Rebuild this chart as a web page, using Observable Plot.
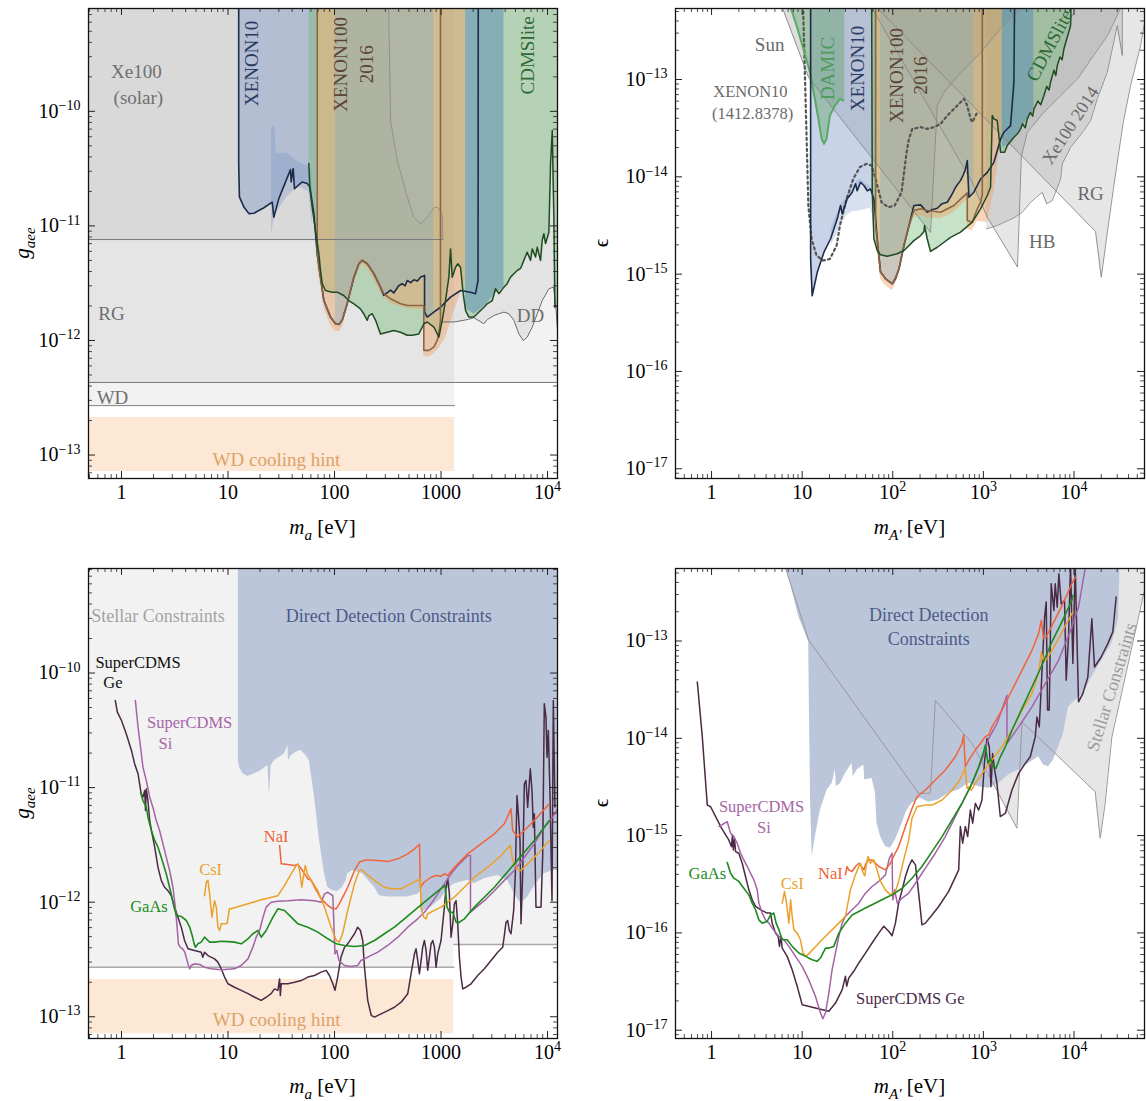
<!DOCTYPE html>
<html><head><meta charset="utf-8">
<script src="https://cdn.jsdelivr.net/npm/d3@7"></script>
<script src="https://cdn.jsdelivr.net/npm/@observablehq/plot@0.6"></script>
<style>
body{margin:0;background:#fff;}
#wrap{position:relative;width:1146px;height:1101px;overflow:hidden;background:#fff;}
</style></head><body><div id="wrap"></div>
<script>
// ===================== DATA =====================
// ---- top-left: axion, g_aee vs m_a ----
const tlXe100Solar = 7.6e-12, tlXe100SolarEnd = 1040;
const tlXe100SolarHigh = [[308,null],[336,8.3e-11],[388,3.73e-11],[482,1.79e-11],[556,1.19e-11],[642,1.04e-11],[742,1.19e-11],[855,1.44e-11],[921,1.46e-11],[1026,1.28e-11],[1040,7.6e-12]];
const tlRG = 4.3e-13;
const tlWD = 2.7e-13, tlWDEnd = 1340;
const tlWDHint = [7.2e-14, 2.13e-13];
const tlDD = [[989,1.45e-12],[1319,1.45e-12],[1762,1.52e-12],[2033,1.58e-12],[2524,1.4e-12],[2712,1.52e-12],[3132,1.65e-12],[3492,1.71e-12],[3890,1.77e-12],[4334,1.71e-12],[4830,1.5e-12],[5383,1.14e-12],[5913,1.0e-12],[6442,1.07e-12],[7181,1.31e-12],[8000,1.71e-12],[8913,2.23e-12],[10290,2.83e-12],[11380,2.92e-12],[11970,1.95e-12],[12420,1.22e-12]];
const tlXenon10 = [[12.6,null],[12.6,3.5e-11],[12.8,1.79e-11],[14.1,1.46e-11],[15.7,1.28e-11],[17.5,1.29e-11],[21.7,1.44e-11],[26.0,1.61e-11],[26.9,1.19e-11],[30.0,1.73e-11],[38.6,3.1e-11],[39.2,2.42e-11],[40.9,3.16e-11],[42.1,2.11e-11],[49.7,2.42e-11],[55.5,2.34e-11],[58.7,2.18e-11],[64.0,1.28e-11],[68.8,5.7e-12]];
const tlXenon10Band = [[25.6,7.3e-11,8.5e-12],[27.5,7.3e-11,1.2e-11],[28.5,4.3e-11,1.3e-11],[36,4.3e-11,1.8e-11],[46,3.6e-11,2.2e-11],[57,3.3e-11,2.0e-11],[62,3.0e-11,1.0e-11]];
const tlXenon100 = [[73.9,3.57e-12],[79.4,2.23e-12],[91.7,1.6e-12],[102,1.4e-12],[110,1.38e-12],[118,1.5e-12],[131.5,2.09e-12],[152,3.57e-12],[169,4.67e-12],[182,5.0e-12],[203,4.67e-12],[234,3.83e-12],[270,2.92e-12],[290,2.47e-12],[336,2.75e-12],[360,2.6e-12],[400,3.0e-12],[432,3.13e-12],[460,3.0e-12],[482,3.34e-12],[520,3.2e-12],[556,3.39e-12],[600,3.3e-12],[642,3.57e-12],[700,3.7e-12],[700,1.77e-12],[742,1.6e-12],[855,1.77e-12],[988,1.95e-12],[1227,2.39e-12],[1525,2.73e-12],[1892,2.64e-12],[2109,2.56e-12],[2225,3.34e-12],[2240,null]];
const tlX100BandRange = [102, 855];
const tlXenon100Band2 = [[1700,1.9e-12],[2033,1.7e-12],[2240,1.8e-12],[2700,2.1e-12],[3250,2.6e-12],[3900,2.9e-12],[3900,null]];
const tlX2016 = [[68.8,null],[68.8,5.7e-12],[73.9,3.57e-12],[79.4,2.23e-12],[91.7,1.6e-12],[102,1.4e-12],[110,1.38e-12],[118,1.5e-12],[131.5,2.09e-12],[152,3.57e-12],[169,4.67e-12],[182,5.0e-12],[203,4.67e-12],[234,3.83e-12],[270,2.92e-12],[290,2.56e-12],[336,2.31e-12],[417,2.09e-12],[482,2.02e-12],[689,2.02e-12],[689,8.2e-13],[768,8.2e-13],[855,8.75e-13],[920,1.0e-12],[953,1.15e-12],[988,1.5e-12],[988,null]];
const tlX2016Band = [[68.8,4.5e-12],[75,2.8e-12],[80,1.9e-12],[92,1.35e-12],[102,1.2e-12],[112,1.2e-12],[120,1.35e-12],[132,1.9e-12],[152,3.2e-12],[175,4.3e-12],[185,4.6e-12],[205,4.2e-12],[235,3.4e-12],[270,2.6e-12],[336,2.1e-12],[482,1.9e-12],[689,1.85e-12],[689,7.2e-13],[768,7.2e-13],[855,7.6e-13],[955,8.5e-13],[1100,1.05e-12],[1319,1.77e-12],[1524,2.56e-12],[1698,3.3e-12],[1698,null]];
const tlCDMS = [[57.4,null],[57.4,3.5e-11],[58.6,2.18e-11],[61.7,1.46e-11],[66.3,9.1e-12],[71.3,5.7e-12],[73.9,4.08e-12],[76.6,3.13e-12],[82.3,2.73e-12],[95.1,2.64e-12],[106,2.64e-12],[122,2.47e-12],[136,2.23e-12],[152,2.09e-12],[175,1.89e-12],[188,1.71e-12],[203,1.5e-12],[210,1.65e-12],[226,1.71e-12],[243,1.5e-12],[270,1.14e-12],[312,1.18e-12],[361,1.22e-12],[417,1.18e-12],[481,1.11e-12],[536,1.11e-12],[619,1.14e-12],[690,1.4e-12],[742,1.45e-12],[857,1.31e-12],[955,1.07e-12],[1026,1.5e-12],[1102,2.23e-12],[1184,3.57e-12],[1228,6.3e-12],[1274,3.57e-12],[1368,4.36e-12],[1438,4.67e-12],[1524,4.36e-12],[1615,2.56e-12],[1698,1.83e-12],[1824,1.6e-12],[2033,1.6e-12],[2187,1.71e-12],[2524,1.95e-12],[2712,2.09e-12],[3026,2.23e-12],[3250,2.83e-12],[3492,2.56e-12],[3890,2.92e-12],[4180,3.13e-12],[4494,3.57e-12],[4830,3.82e-12],[5190,4.08e-12],[5576,4.25e-12],[5993,5.0e-12],[6442,5.9e-12],[6922,5.0e-12],[7181,6.3e-12],[7712,5.35e-12],[8000,6.5e-12],[8593,5.0e-12],[8913,7.5e-12],[9230,8.55e-12],[9577,7.0e-12],[10290,8.8e-12],[10670,3.5e-11],[11070,6.8e-11],[11470,1.12e-11],[11720,1.95e-12],[12150,2.0e-12],[12500,2.0e-12]];

// ---- top-right: dark photon, epsilon vs m_A' ----
const trSun = [[6.08,5.4e-13],[11.8,1.05e-13],[261,2.68e-15],[310,5.4e-14],[366,7.35e-14],[560,1.18e-13],[931,1.89e-13],[1549,3.34e-13],[2575,5.4e-13]];
const trHB = [[59,5.4e-13],[749,8.85e-15],[1104,3.85e-15],[2380,1.18e-15],[2620,1.6e-14],[3053,2.87e-14],[4617,4.58e-14],[7112,6.85e-14],[10960,1.02e-13],[16450,1.77e-13],[23480,2.83e-13],[32700,5.4e-13]];
const trRG = [[68,5.4e-13],[17300,2.74e-15],[20000,9.3e-16],[23480,2.8e-15],[27350,7.76e-15],[31050,1.74e-14],[35260,3.79e-14],[42150,8.7e-14],[54330,2.23e-13],[62000,4.55e-13]];
const trXe2014 = [[1084,2.92e-15],[1423,3.16e-15],[2172,3.79e-15],[2688,4.33e-15],[3319,5.48e-15],[4467,6.95e-15],[4985,5.28e-15],[5764,5.7e-15],[7112,9.5e-15],[7430,1.36e-14],[9170,2.01e-14],[12850,2.99e-14],[15240,3.79e-14],[18070,6.34e-14],[23320,1.19e-13],[30060,3.59e-13],[34140,1.77e-13],[34140,null]];
const trDamic = [[7.32,5.77e-13],[8.67,3.59e-13],[10.3,2.07e-13],[12.2,1.19e-13],[13.8,6.34e-14],[15.1,3.94e-14],[16.4,2.46e-14],[17.4,2.18e-14],[18.6,2.46e-14],[20.2,4.26e-14],[23.0,5.4e-14],[26.1,6.34e-14],[28.4,6.08e-14],[29.6,6.0e-14]];
const trXenon10Old = [[10.1,null],[10.3,4.55e-13],[10.7,1.19e-13],[11.2,2.46e-14],[11.7,5.07e-15],[12.7,2.31e-15],[14.4,1.55e-15],[17.1,1.38e-15],[20.2,1.43e-15],[24.0,1.97e-15],[26.1,3.16e-15],[30.9,5.94e-15],[36.6,9.5e-15],[43.3,1.26e-14],[51.4,1.36e-14],[58.3,1.31e-14],[66.2,8.8e-15],[75.2,5.48e-15],[89.2,4.87e-15],[105,5.07e-15],[125,6.95e-15],[142,1.79e-14],[151,2.46e-14],[164,3.11e-14],[203,3.24e-14],[240,3.11e-14],[284,3.24e-14],[337,3.5e-14],[400,4.26e-14],[515,5.4e-14],[610,6.34e-14],[664,5.4e-14],[722,3.94e-14],[754,3.64e-14],[857,4.61e-14]];
const trXenon10 = [[12.4,null],[12.4,1.44e-15],[12.9,6.0e-16],[14.7,1.05e-15],[17.4,1.68e-15],[20.6,2.31e-15],[24.4,3.7e-15],[26.5,5.07e-15],[27.7,4.17e-15],[31.4,5.94e-15],[35.7,6.95e-15],[38.8,8.5e-15],[40.5,7.2e-15],[44.1,8.8e-15],[48.0,8.15e-15],[52.3,7.2e-15],[56.9,7.5e-15],[61.8,5.94e-15],[67.4,2.31e-15]];
const trXenon10Band = [[21,3.0e-15,2.0e-15],[24.4,4.2e-15,2.6e-15],[27,5.2e-15,3.2e-15],[31,6.2e-15,4.0e-15],[36,7.5e-15,4.4e-15],[40,9.0e-15,4.4e-15],[44,9.5e-15,4.5e-15],[50,8.5e-15,4.6e-15],[56,8.0e-15,4.8e-15],[60,7.0e-15,4.0e-15],[64,4.0e-15,2.5e-15]];
const trXenon100 = [[73.3,1.05e-15],[83.3,8.95e-16],[98.7,7.95e-16],[107,8.95e-16],[117,1.13e-15],[133,1.97e-15],[151,3.16e-15],[171,5.07e-15],[203,5.15e-15],[240,4.33e-15],[270,4.6e-15],[310,4.76e-15],[350,5.3e-15],[400,5.48e-15],[450,6.6e-15],[493,7.8e-15],[560,9.2e-15],[600,1.05e-14],[637,1.21e-14],[664,1.47e-14],[692,6.17e-15],[785,6.95e-15],[931,9.5e-15],[1104,1.11e-14],[1307,1.41e-14],[1549,2.45e-14],[1684,2.87e-14],[1995,3.36e-14],[2172,9.4e-14],[2266,null]];
const trX100BandRange = [73, 785];
const trXenon100Band2 = [[1616,2.0e-14],[1836,2.1e-14],[2172,2.55e-14],[2575,3.11e-14],[3050,3.94e-14],[3600,5.0e-14],[3600,null]];
const trX2016 = [[64.6,null],[64.6,3.16e-15],[73.3,1.05e-15],[83.3,8.95e-16],[98.7,8.0e-16],[107,9.2e-16],[117,1.13e-15],[133,2.0e-15],[151,3.16e-15],[171,4.5e-15],[203,4.7e-15],[240,4.5e-15],[337,4.33e-15],[473,5.07e-15],[664,6.84e-15],[664,3.56e-15],[754,3.42e-15],[857,4.69e-15],[931,5.48e-15],[973,6.5e-15],[973,null]];
const trX2016Band = [[64.6,2.5e-15],[73,9.0e-16],[83,7.6e-16],[99,6.8e-16],[107,7.8e-16],[117,9.6e-16],[133,1.7e-15],[151,2.7e-15],[171,3.8e-15],[203,4.0e-15],[240,3.8e-15],[337,3.7e-15],[473,4.3e-15],[664,5.8e-15],[664,2.9e-15],[754,2.8e-15],[857,3.5e-15],[1104,3.4e-15],[1307,7.0e-15],[1549,2.1e-14],[1616,3.0e-14],[1616,null]];
const trCDMS = [[57.9,null],[59.4,6.95e-15],[61.9,2.31e-15],[67.4,1.75e-15],[73.3,1.58e-15],[86.9,1.53e-15],[112,1.62e-15],[133,1.75e-15],[171,2.21e-15],[203,2.49e-15],[221,2.74e-15],[224,3.16e-15],[240,2.31e-15],[261,1.71e-15],[310,1.89e-15],[434,2.39e-15],[560,2.7e-15],[754,3.42e-15],[931,4.69e-15],[1104,6.43e-15],[1200,7.8e-15],[1253,4.26e-14],[1307,3.94e-14],[1422,3.79e-14],[1549,1.79e-14],[1714,1.79e-14],[1836,2.1e-14],[2172,2.55e-14],[2400,2.8e-14],[2575,3.11e-14],[2700,3.5e-14],[2900,3.2e-14],[3050,3.94e-14],[3300,4.6e-14],[3500,4.2e-14],[3612,5.0e-14],[4000,6.0e-14],[4300,5.5e-14],[4655,6.85e-14],[5000,8.5e-14],[5300,7.8e-14],[5516,9.4e-14],[6000,1.25e-13],[6300,1.1e-13],[6535,1.39e-13],[7000,1.7e-13],[7400,1.6e-13],[7740,2.07e-13],[8500,2.8e-13],[9170,3.59e-13],[9980,null]];

// ---- bottom-left: projected reach, g_aee ----
const blWD = 2.71e-13, blWDEnd = 1320, blRG = 4.28e-13;
const blWDHint = [7.1e-14, 2.11e-13], blWDHintEnd = 1316;
const blDD = [[12.5,1.72e-11],[12.8,1.51e-11],[13.8,1.32e-11],[15.4,1.25e-11],[17.8,1.32e-11],[20.5,1.41e-11],[23.7,1.56e-11],[24.5,8.53e-12],[25.4,1.56e-11],[27.3,1.72e-11],[30.5,1.84e-11],[33.9,1.97e-11],[36.5,2.33e-11],[37.0,1.72e-11],[39.2,1.9e-11],[43.7,2.04e-11],[48.6,2.11e-11],[54.2,1.9e-11],[58.0,1.72e-11],[64.9,8.25e-12],[72.3,3.46e-12],[80.5,1.77e-12],[86.5,1.35e-12],[96.4,1.26e-12],[107,1.24e-12],[119,1.35e-12],[129,1.55e-12],[133,1.77e-12],[148,1.89e-12],[184,1.77e-12],[237,1.35e-12],[264,1.14e-12],[316,1.11e-12],[487,1.11e-12],[604,1.17e-12],[640,1.22e-12],[650,7.92e-13],[698,8.47e-13],[806,9.05e-13],[1000,1.07e-12],[1156,1.31e-12],[1335,1.45e-12],[1780,1.55e-12],[2056,1.45e-12],[2552,1.6e-12],[3403,1.71e-12],[4224,1.55e-12],[4879,1.18e-12],[5634,9.68e-13],[6505,1.11e-12],[7789,1.45e-12],[9324,1.77e-12],[11160,1.89e-12],[12500,1.89e-12]];
const blGe = [[0.875,5.75e-11],[0.914,4.55e-11],[1.0,3.85e-11],[1.11,2.94e-11],[1.24,2.11e-11],[1.33,1.61e-11],[1.43,1.32e-11],[1.48,1.08e-11],[1.53,8.83e-12],[1.59,8.25e-12],[1.65,9.44e-12],[1.68,6.31e-12],[1.71,9.76e-12],[1.77,7.71e-12],[1.84,5.16e-12],[1.91,4.22e-12],[2.05,3.02e-12],[2.20,2.02e-12],[2.36,1.55e-12],[2.54,1.35e-12],[2.73,1.26e-12],[2.93,1.14e-12],[3.15,9.05e-13],[3.39,7.4e-13],[3.64,6.05e-13],[3.91,4.63e-13],[4.21,3.92e-13],[4.86,3.79e-13],[5.61,3.66e-13],[5.8,3.31e-13],[6.03,3.66e-13],[6.48,3.42e-13],[7.48,3.2e-13],[8.04,3.0e-13],[8.64,2.62e-13],[9.28,2.22e-13],[9.98,1.94e-13],[11.5,1.81e-13],[13.3,1.7e-13],[15.4,1.59e-13],[17.8,1.48e-13],[20.5,1.39e-13],[22.8,1.48e-13],[25.4,1.59e-13],[27.3,1.75e-13],[29.4,1.7e-13],[30.5,2.14e-13],[31.0,1.53e-13],[31.6,1.94e-13],[36.5,1.94e-13],[42.1,2.0e-13],[48.6,2.07e-13],[56.2,2.22e-13],[64.9,2.29e-13],[74.9,2.45e-13],[83.5,2.54e-13],[89.7,2.29e-13],[96.4,1.94e-13],[101,1.7e-13],[107,2.22e-13],[115,3.31e-13],[124,4.05e-13],[133,4.33e-13],[143,4.79e-13],[154,5.3e-13],[165,6.05e-13],[175,5.66e-13],[184,4.63e-13],[191,2.71e-13],[205,1.39e-13],[221,1.03e-13],[237,9.93e-14],[274,1.06e-13],[316,1.13e-13],[365,1.21e-13],[422,1.34e-13],[487,1.59e-13],[523,2.37e-13],[563,3.54e-13],[583,3.92e-13],[604,3.1e-13],[627,2.37e-13],[650,3.1e-13],[673,4.05e-13],[698,4.63e-13],[724,3.79e-13],[750,2.54e-13],[778,3.31e-13],[806,4.33e-13],[836,4.63e-13],[867,4.05e-13],[898,2.71e-13],[931,3.54e-13],[1000,4.63e-13],[1075,9.05e-13],[1115,1.35e-12],[1156,1.6e-12],[1198,1.18e-12],[1242,4.95e-13],[1288,6.47e-13],[1335,9.68e-13],[1384,1.03e-12],[1435,6.47e-13],[1487,3.31e-13],[1542,2.22e-13],[1598,1.75e-13],[1717,1.81e-13],[1913,1.94e-13],[2209,2.29e-13],[2552,2.62e-13],[2947,3.1e-13],[3403,3.66e-13],[3792,4.05e-13],[3930,5.12e-13],[4074,6.69e-13],[4224,6.92e-13],[4378,5.66e-13],[4538,5.3e-13],[4808,8.47e-13],[4984,1.77e-12],[5167,8.53e-12],[5318,5.9e-12],[5514,3.46e-12],[5634,6.47e-13],[5841,1.77e-12],[6053,1.08e-11],[6275,1.15e-11],[6505,6.75e-12],[6890,1.46e-11],[7143,9.44e-12],[7352,4.51e-12],[7513,5.9e-12],[7789,9.05e-13],[8678,9.05e-13],[8995,2.47e-12],[9324,5.38e-11],[9667,4.1e-11],[9880,1.84e-11],[10170,3.15e-11],[10540,8.83e-12],[11010,1.03e-12],[11330,5.75e-11],[11740,6.75e-12]];
const blSi = [[1.35,5.75e-11],[1.43,3.37e-11],[1.51,2.25e-11],[1.59,1.51e-11],[1.71,1.15e-11],[1.84,8.25e-12],[1.97,6.75e-12],[2.12,5.16e-12],[2.28,4.22e-12],[2.45,3.23e-12],[2.63,2.47e-12],[2.83,1.89e-12],[3.04,1.35e-12],[3.20,9.05e-13],[3.33,6.05e-13],[3.42,4.33e-13],[3.56,4.05e-13],[3.74,3.92e-13],[3.93,3.66e-13],[4.21,2.9e-13],[4.37,2.62e-13],[4.52,2.8e-13],[4.86,2.9e-13],[5.41,2.86e-13],[6.03,2.71e-13],[6.96,2.62e-13],[8.64,2.57e-13],[11.5,2.62e-13],[13.3,2.8e-13],[15.4,3.2e-13],[17.1,4.05e-13],[18.4,4.95e-13],[19.8,5.66e-13],[21.3,7.4e-13],[22.8,9.05e-13],[25.4,1.0e-12],[29.4,1.02e-12],[36.5,1.03e-12],[48.6,1.05e-12],[64.9,1.03e-12],[74.9,1.0e-12],[80.5,1.18e-12],[86.5,1.22e-12],[96.4,1.14e-12],[101,3.54e-13],[105,3.79e-13],[110,3.1e-13],[124,2.8e-13],[143,2.75e-13],[165,2.8e-13],[177,3.1e-13],[205,3.31e-13],[255,3.66e-13],[316,4.19e-13],[393,4.95e-13],[487,6.05e-13],[604,7.16e-13],[698,8.18e-13],[806,9.68e-13],[931,1.18e-12],[1075,1.45e-12],[1242,1.77e-12],[1435,2.09e-12],[1780,2.55e-12],[1890,2.55e-12],[1890,8.18e-13],[2056,8.75e-13],[2552,1.03e-12],[3167,1.26e-12],[3930,1.55e-12],[4879,1.89e-12],[6053,2.47e-12],[7513,3.23e-12],[9324,4.51e-12],[11160,5.52e-12],[12400,6.53e-12]];
const blGaAs = [[1.51,9.12e-12],[1.59,7.71e-12],[1.71,6.75e-12],[1.77,5.52e-12],[1.91,4.22e-12],[2.05,3.46e-12],[2.20,3.02e-12],[2.36,2.47e-12],[2.63,1.77e-12],[2.93,1.18e-12],[3.11,9.05e-13],[3.28,7.66e-13],[3.64,7.5e-13],[4.06,6.92e-13],[4.37,6.05e-13],[4.61,5.12e-13],[4.81,4.33e-13],[4.95,4.05e-13],[5.22,4.33e-13],[5.61,4.48e-13],[6.03,4.95e-13],[6.25,4.79e-13],[6.72,4.48e-13],[7.48,4.48e-13],[8.64,4.56e-13],[9.98,4.53e-13],[11.5,4.48e-13],[13.3,4.33e-13],[15.4,4.79e-13],[17.1,5.3e-13],[19.1,5.66e-13],[20.5,4.95e-13],[22.8,5.66e-13],[26.4,7.4e-13],[29.4,8.75e-13],[33.9,8.47e-13],[39.2,7.4e-13],[45.3,6.47e-13],[56.2,6.05e-13],[69.7,5.48e-13],[86.5,4.79e-13],[104,4.33e-13],[124,4.19e-13],[154,4.1e-13],[191,4.19e-13],[237,4.63e-13],[294,5.3e-13],[365,6.05e-13],[453,7.16e-13],[563,8.47e-13],[698,1.0e-12],[867,1.18e-12],[1037,1.35e-12],[1091,1.4e-12],[1139,9.05e-13],[1198,8.18e-13],[1288,8.18e-13],[1384,6.69e-13],[1435,6.55e-13],[1657,7.16e-13],[2056,9.05e-13],[3167,1.35e-12],[4879,2.16e-12],[7513,3.46e-12],[10390,5.16e-12]];
const blCsI = [[6.03,1.14e-12],[6.25,1.5e-12],[6.48,1.55e-12],[6.72,1.18e-12],[7.06,7.4e-13],[7.48,1.03e-12],[7.76,9.05e-13],[8.04,6.05e-13],[8.33,5.66e-13],[8.64,6.47e-13],[9.42,6.47e-13],[9.84,6.55e-13],[10.3,8.75e-13],[10.7,8.75e-13],[15.4,9.68e-13],[20.5,1.05e-12],[29.4,1.14e-12],[34.0,1.4e-12],[39.2,1.77e-12],[43.7,2.09e-12],[45.3,2.16e-12],[47.0,1.89e-12],[49.3,1.35e-12],[51.5,1.77e-12],[53.1,2.09e-12],[55.5,1.77e-12],[58.0,1.65e-12],[69.7,1.26e-12],[80.5,9.05e-13],[93.0,6.05e-13],[104,4.63e-13],[111,4.48e-13],[119,5.3e-13],[133,8.47e-13],[154,1.45e-12],[171,1.89e-12],[180,1.92e-12],[198,1.77e-12],[237,1.55e-12],[294,1.35e-12],[340,1.31e-12],[422,1.31e-12],[523,1.45e-12],[640,1.6e-12],[650,9.05e-13],[688,7.4e-13],[724,7.16e-13],[750,7.92e-13],[867,8.47e-13],[1000,9.05e-13],[1156,1.0e-12],[1335,1.11e-12],[1657,1.35e-12],[2056,1.65e-12],[2742,2.02e-12],[3657,2.55e-12],[4474,3.13e-12],[4706,2.31e-12],[5242,1.92e-12],[5634,1.89e-12],[6505,2.16e-12],[8075,2.64e-12],[10390,3.46e-12]];
const blNaI = [[30.5,3.13e-12],[31.6,2.16e-12],[36.5,2.13e-12],[42.1,2.09e-12],[45.3,2.13e-12],[48.6,1.96e-12],[52.3,1.77e-12],[56.2,1.6e-12],[60.4,1.55e-12],[64.9,1.35e-12],[74.9,1.07e-12],[86.5,9.36e-13],[96.4,8.75e-13],[104,8.75e-13],[115,1.03e-12],[133,1.35e-12],[154,1.89e-12],[171,2.24e-12],[198,2.34e-12],[255,2.31e-12],[316,2.26e-12],[393,2.39e-12],[487,2.64e-12],[563,2.92e-12],[627,3.2e-12],[640,1.35e-12],[698,1.5e-12],[806,1.65e-12],[898,1.71e-12],[1000,1.68e-12],[1075,1.77e-12],[1156,1.71e-12],[1335,2.02e-12],[1780,2.64e-12],[2374,3.23e-12],[3167,3.95e-12],[3930,4.83e-12],[4538,6.53e-12],[4706,4.22e-12],[5242,3.7e-12],[6053,4.22e-12],[7513,5.16e-12],[10390,7.22e-12]];

// ---- bottom-right: projected reach, epsilon ----
const brStellar = [[6.55,5.6e-13],[11.8,1.02e-13],[82.9,8.18e-15],[193,2.72e-15],[260,2.72e-15],[295,2.46e-14],[749,8.85e-15],[2346,1.19e-15],[2665,1.48e-14],[17150,2.82e-15],[19460,9.38e-16],[22100,2.15e-15],[26170,1.03e-14],[61000,3.58e-13]];
const brDD = [[6.83,5.6e-13],[7.76,3.31e-13],[9.19,1.76e-13],[10.9,1.19e-13],[11.8,9.77e-14],[12.0,2.27e-14],[12.4,2.15e-15],[12.9,6.1e-16],[14.0,9.77e-16],[15.9,1.83e-15],[18.9,2.94e-15],[21.4,3.44e-15],[23.3,4.72e-15],[23.8,3.18e-15],[26.5,3.44e-15],[30.0,4.35e-15],[35.6,5.52e-15],[36.6,4.03e-15],[40.4,4.72e-15],[47.9,5.31e-15],[49.1,3.72e-15],[59.1,3.87e-15],[64.4,2.72e-15],[66.9,1.34e-15],[73.1,9.77e-16],[82.9,7.71e-16],[94.2,7.41e-16],[107,9.03e-16],[127,1.34e-15],[144,1.83e-15],[163,2.15e-15],[202,2.42e-15],[249,2.2e-15],[321,2.32e-15],[414,2.72e-15],[534,2.94e-15],[688,3.44e-15],[887,3.18e-15],[1143,3.06e-15],[1474,3.44e-15],[1899,4.19e-15],[2448,4.72e-15],[3156,5.52e-15],[4067,6.46e-15],[4617,5.31e-15],[5243,5.1e-15],[5953,5.97e-15],[6760,8.18e-15],[7674,1.12e-14],[8712,2.1e-14],[10320,2.46e-14],[12750,2.88e-14],[15750,4.27e-14],[20300,6.34e-14],[26170,9.4e-14],[31000,1.63e-13],[32200,5.6e-13]];
const brGe = [[0.696,3.8e-14],[0.79,1.04e-14],[0.897,2.06e-15],[0.976,1.98e-15],[1.11,1.57e-15],[1.26,1.24e-15],[1.43,1.02e-15],[1.55,9.02e-16],[1.66,7.7e-16],[1.70,1.02e-15],[1.74,7.12e-16],[1.79,9.4e-16],[1.84,6.85e-16],[2.0,6.59e-16],[2.18,5.2e-16],[2.37,3.8e-16],[2.58,2.77e-16],[2.81,2.19e-16],[3.06,1.87e-16],[3.47,1.73e-16],[4.11,1.6e-16],[4.47,1.6e-16],[4.67,1.26e-16],[5.08,9.95e-17],[5.43,9.2e-17],[5.62,7.27e-17],[5.82,9.2e-17],[6.02,6.98e-17],[6.83,5.74e-17],[7.76,4.19e-17],[8.81,2.83e-17],[10.0,1.83e-17],[14.0,1.69e-17],[19.7,1.57e-17],[23.3,1.9e-17],[27.7,2.61e-17],[30.0,3.58e-17],[31.0,2.83e-17],[32.7,3.44e-17],[37.1,4.03e-17],[42.2,4.91e-17],[49.9,6.21e-17],[59.1,7.87e-17],[70.0,9.95e-17],[79.5,1.17e-16],[90.3,1.04e-16],[98.2,9.35e-17],[107,1.26e-16],[116,2.02e-16],[127,2.77e-16],[138,3.8e-16],[150,4.81e-16],[163,5.63e-16],[178,5.0e-16],[193,2.56e-16],[210,1.21e-16],[229,1.26e-16],[271,1.53e-16],[321,1.87e-16],[414,2.67e-16],[534,4.45e-16],[557,1.24e-15],[591,8.35e-16],[632,1.24e-15],[671,9.77e-16],[718,1.83e-15],[762,1.34e-15],[815,2.15e-15],[887,1.83e-15],[965,2.32e-15],[1033,5.97e-15],[1096,9.95e-15],[1163,8.18e-15],[1213,3.18e-15],[1265,6.98e-15],[1331,4.72e-15],[1412,3.44e-15],[1537,1.57e-15],[1745,1.69e-15],[2067,2.94e-15],[2448,4.36e-15],[2900,5.52e-15],[3292,6.46e-15],[3738,1.04e-14],[3900,1.66e-14],[4138,1.31e-14],[4352,3.37e-14],[4737,1.76e-13],[4936,2.51e-13],[5107,1.95e-14],[5328,1.95e-14],[5607,3.87e-13],[6000,2.06e-13],[6205,3.87e-13],[6529,2.23e-13],[6809,4.91e-13],[7226,2.41e-13],[7863,2.61e-13],[8203,3.95e-14],[8707,1.1e-13],[9158,6e-13],[9717,5.86e-14],[10310,6e-13],[11220,2.37e-14],[12530,2.88e-14],[14220,4.27e-14],[15740,1.69e-13],[16850,5.41e-14],[19950,6.85e-14],[23630,9.4e-14],[26830,1.24e-13],[29200,2.83e-13]];
const brSi = [[1.21,1.24e-15],[1.49,1.39e-15],[1.62,1.06e-15],[1.76,9.77e-16],[1.92,8.35e-16],[2.09,6.59e-16],[2.27,5.63e-16],[2.48,4.81e-16],[2.69,4.11e-16],[2.93,3.51e-16],[3.19,2.77e-16],[3.33,2.02e-16],[3.62,1.6e-16],[3.94,1.36e-16],[4.29,1.26e-16],[4.67,1.12e-16],[5.53,9.2e-17],[6.28,8.5e-17],[7.13,7.27e-17],[8.44,5.74e-17],[10.0,4.53e-17],[11.8,3.31e-17],[14.0,2.23e-17],[15.9,1.51e-17],[16.9,1.31e-17],[18.1,1.51e-17],[19.7,2.42e-17],[21.4,4.19e-17],[23.3,6.21e-17],[25.4,9.2e-17],[27.6,1.26e-16],[30.0,1.48e-16],[35.6,1.73e-16],[42.2,2.02e-16],[49.9,2.56e-16],[59.1,3.0e-16],[70.0,3.38e-16],[82.9,3.95e-16],[91.8,5.86e-16],[98.2,6.59e-16],[99.9,2.19e-16],[105,2.77e-16],[112,2.02e-16],[127,2.28e-16],[150,2.56e-16],[178,3.24e-16],[229,4.63e-16],[295,6.59e-16],[380,9.77e-16],[490,1.57e-15],[581,2.15e-15],[749,3.44e-15],[965,5.97e-15],[1143,9.95e-15],[1413,1.42e-14],[1821,2.77e-14],[1821,8.85e-15],[2448,1.31e-14],[3434,2.1e-14],[4817,3.65e-14],[6760,6.34e-14],[9482,1.39e-13],[11230,2.23e-13],[13300,5.6e-13]];
const brGaAs = [[1.49,5.28e-16],[1.62,4.11e-16],[1.76,3.65e-16],[2.0,3.38e-16],[2.27,2.88e-16],[2.58,2.46e-16],[2.81,2.02e-16],[3.06,1.73e-16],[3.33,1.36e-16],[3.62,1.26e-16],[4.11,1.31e-16],[4.47,1.53e-16],[4.86,1.6e-16],[5.16,1.26e-16],[5.53,1.08e-16],[6.02,8.5e-17],[6.83,8.5e-17],[7.76,7.27e-17],[9.19,6.21e-17],[10.9,5.74e-17],[12.9,5.31e-17],[14.6,5.1e-17],[15.9,5.52e-17],[18.1,6.98e-17],[19.7,6.98e-17],[22.3,7.27e-17],[25.4,9.95e-17],[30.0,1.26e-16],[35.6,1.53e-16],[42.2,1.66e-16],[49.9,1.8e-16],[59.1,1.95e-16],[82.9,2.28e-16],[98.2,2.46e-16],[127,2.88e-16],[163,3.65e-16],[210,4.81e-16],[271,6.85e-16],[350,9.77e-16],[451,1.45e-15],[581,2.15e-15],[749,3.44e-15],[887,5.1e-15],[1007,7.28e-15],[1050,8.5e-15],[1124,5.52e-15],[1192,6.21e-15],[1298,5.1e-15],[1377,4.91e-15],[1537,6.46e-15],[1745,8.18e-15],[2067,1.21e-14],[2665,2.02e-14],[3434,3.37e-14],[4428,5.63e-14],[5705,9.77e-14],[7356,1.57e-13],[9482,2.61e-13],[9717,2.94e-13]];
const brCsI = [[6.02,2.02e-16],[6.39,2.66e-16],[6.73,2.02e-16],[7.13,1.26e-16],[7.46,2.19e-16],[7.76,1.48e-16],[8.1,1.08e-16],[8.81,9.95e-17],[9.58,8.5e-17],[10.2,6.21e-17],[11.1,5.74e-17],[16.6,8.5e-17],[25.4,1.26e-16],[30.0,1.48e-16],[34.1,2.77e-16],[38.1,3.8e-16],[42.2,4.81e-16],[44.0,5.2e-16],[46.7,4.18e-16],[49.1,3.86e-16],[50.7,4.81e-16],[53.4,6.1e-16],[56.6,5.2e-16],[61.7,5.63e-16],[67.0,4.45e-16],[73.1,3.38e-16],[82.9,2.77e-16],[94.2,2.46e-16],[107,2.66e-16],[116,3.38e-16],[132,5.63e-16],[150,9.04e-16],[163,1.51e-15],[185,1.98e-15],[229,2.06e-15],[271,2.06e-15],[350,2.32e-15],[451,2.94e-15],[534,3.58e-15],[606,4.53e-15],[632,4.91e-15],[659,3.06e-15],[699,3.18e-15],[736,2.94e-15],[815,3.44e-15],[965,4.35e-15],[1244,5.97e-15],[1603,8.18e-15],[2067,1.21e-14],[2665,1.95e-14],[3434,2.88e-14],[4067,4.63e-14],[4352,7.71e-14],[4617,6.1e-14],[4899,6.34e-14],[5470,7.41e-14],[6760,1.06e-13],[7863,1.39e-13],[9717,1.98e-13]];
const brNaI = [[30.0,3.95e-16],[31.3,4.81e-16],[32.7,4.45e-16],[35.6,4.28e-16],[38.7,4.81e-16],[42.2,5.2e-16],[44.0,5.0e-16],[47.9,4.45e-16],[50.7,5.2e-16],[54.3,5.63e-16],[59.1,5.63e-16],[70.0,4.81e-16],[82.9,4.45e-16],[94.2,5.2e-16],[102,6.1e-16],[116,7.7e-16],[138,1.24e-15],[163,1.9e-15],[185,2.51e-15],[229,2.94e-15],[295,3.72e-15],[380,4.72e-15],[490,6.46e-15],[581,8.85e-15],[606,1.08e-14],[632,5.1e-15],[688,5.97e-15],[815,7.57e-15],[925,8.85e-15],[1050,1.04e-14],[1143,1.08e-14],[1244,1.31e-14],[1603,1.95e-14],[2067,3.12e-14],[2665,5.0e-14],[3434,8.02e-14],[4067,1.19e-13],[4352,1.63e-13],[4617,1.06e-13],[4936,1.1e-13],[5607,1.39e-13],[7226,2.23e-13],[9482,3.87e-13],[10320,4.53e-13]];

// ---- annotation labels (data coordinates) ----
const tlLabels = [
  {x:1.38,y:2.19e-10,t:"Xe100",c:"#707070",s:19},
  {x:1.44,y:1.32e-10,t:"(solar)",c:"#707070",s:19},
  {x:16.6,y:2.62e-10,t:"XENON10",c:"#2b3c63",s:19,r:-90},
  {x:114,y:2.57e-10,t:"XENON100",c:"#5b4434",s:19,r:-90},
  {x:200,y:2.57e-10,t:"2016",c:"#5b4434",s:19,r:-90},
  {x:6490,y:3.08e-10,t:"CDMSlite",c:"#2f6b36",s:19,r:-90},
  {x:0.805,y:1.72e-12,t:"RG",c:"#6e6e6e",s:19},
  {x:0.823,y:3.18e-13,t:"WD",c:"#6e6e6e",s:19},
  {x:6920,y:1.65e-12,t:"DD",c:"#6e6e6e",s:19},
  {x:28.5,y:9.14e-14,t:"WD cooling hint",c:"#dba266",s:19}
];
const trLabels = [
  {x:4.37,y:2.29e-13,t:"Sun",c:"#6a6a6a",s:19},
  {x:2.69,y:7.53e-14,t:"XENON10",c:"#6a6a6a",s:16.5},
  {x:2.84,y:4.48e-14,t:"(1412.8378)",c:"#6a6a6a",s:16.5},
  {x:19.1,y:1.3e-13,t:"DAMIC",c:"#4c9a5a",s:19,r:-90},
  {x:41.6,y:1.3e-13,t:"XENON10",c:"#2b3c63",s:19,r:-90},
  {x:110,y:1.1e-13,t:"XENON100",c:"#5b4434",s:19,r:-90},
  {x:203,y:1.1e-13,t:"2016",c:"#5b4434",s:19,r:-90},
  {x:5380,y:2.24e-13,t:"CDMSlite",c:"#2f6b36",s:19,r:-62},
  {x:9170,y:3.37e-14,t:"Xe100 2014",c:"#6a6a6a",s:18,r:-57},
  {x:15250,y:6.73e-15,t:"RG",c:"#6a6a6a",s:19},
  {x:4470,y:2.13e-15,t:"HB",c:"#6a6a6a",s:19}
];
const blLabels = [
  {x:2.2,y:3.11e-10,t:"Stellar Constraints",c:"#a3a3a3",s:18},
  {x:323,y:3.11e-10,t:"Direct Detection Constraints",c:"#4b5c86",s:18},
  {x:1.43,y:1.24e-10,t:"SuperCDMS",c:"#111111",s:16.5},
  {x:0.832,y:8.15e-11,t:"Ge",c:"#111111",s:16.5},
  {x:4.36,y:3.72e-11,t:"SuperCDMS",c:"#a667a8",s:16.5},
  {x:2.58,y:2.41e-11,t:"Si",c:"#a667a8",s:16.5},
  {x:28.3,y:3.69e-12,t:"NaI",c:"#ef6434",s:16.5},
  {x:6.87,y:1.92e-12,t:"CsI",c:"#e8a22a",s:16.5},
  {x:1.81,y:9.04e-13,t:"GaAs",c:"#1a8c22",s:16.5},
  {x:28.6,y:9.42e-14,t:"WD cooling hint",c:"#dba266",s:19}
];
const brLabels = [
  {x:249,y:1.83e-13,t:"Direct Detection",c:"#4b5c86",s:18},
  {x:249,y:1.05e-13,t:"Constraints",c:"#4b5c86",s:18},
  {x:26180,y:3.36e-14,t:"Stellar Constraints",c:"#9c9c9c",s:18,r:-73},
  {x:3.56,y:1.97e-15,t:"SuperCDMS",c:"#a667a8",s:16.5},
  {x:3.78,y:1.21e-15,t:"Si",c:"#a667a8",s:16.5},
  {x:0.897,y:4.03e-16,t:"GaAs",c:"#1a8c22",s:16.5},
  {x:7.76,y:3.24e-16,t:"CsI",c:"#e8a22a",s:16.5},
  {x:20.5,y:4.03e-16,t:"NaI",c:"#ef6434",s:16.5},
  {x:156,y:2.09e-17,t:"SuperCDMS Ge",c:"#4a2c48",s:16.5}
];

// ===================== RENDERING =====================
const FONT = "'Liberation Serif','Times New Roman',Times,serif";
const XL = 0.05, XR = 1e6;           // "extends past the frame" in x
const TOPA = 1e-8, TOPB = 1e-11;     // "extends past the frame" in y

function logTicks(lo, hi) {
  const maj = [], min = [];
  for (let e = Math.floor(Math.log10(lo)); e <= Math.ceil(Math.log10(hi)); e++) {
    for (let k = 1; k < 10; k++) {
      const v = k * Math.pow(10, e);
      if (v < lo * 1.0001 || v > hi * 0.9999) continue;
      (k === 1 ? maj : min).push(v);
    }
  }
  return {maj, min};
}
const fmtY = d => "10^\u2212" + (-Math.round(Math.log10(d)));
const fmtXa = d => { const e = Math.round(Math.log10(d)); return e >= 4 ? "10^" + e : String(Math.round(d)); };
const fmtXb = d => { const e = Math.round(Math.log10(d)); return e >= 2 ? "10^" + e : String(Math.round(d)); };

function frameMarks(xd, yd, innerW, innerH, xFmt) {
  const xt = logTicks(xd[0], xd[1]), yt = logTicks(yd[0], yd[1]);
  const L = 7, l = 4, c = "#222";
  return [
    Plot.ruleX(xt.maj, {x: d => d, insetTop: innerH - L, stroke: c}),
    Plot.ruleX(xt.maj, {x: d => d, insetBottom: innerH - L, stroke: c}),
    Plot.ruleX(xt.min, {x: d => d, insetTop: innerH - l, stroke: c, strokeWidth: 0.8}),
    Plot.ruleX(xt.min, {x: d => d, insetBottom: innerH - l, stroke: c, strokeWidth: 0.8}),
    Plot.ruleY(yt.maj, {y: d => d, insetRight: innerW - L, stroke: c}),
    Plot.ruleY(yt.maj, {y: d => d, insetLeft: innerW - L, stroke: c}),
    Plot.ruleY(yt.min, {y: d => d, insetRight: innerW - l, stroke: c, strokeWidth: 0.8}),
    Plot.ruleY(yt.min, {y: d => d, insetLeft: innerW - l, stroke: c, strokeWidth: 0.8}),
    Plot.frame({stroke: "#111", strokeWidth: 1.3}),
    Plot.axisX({ticks: xt.maj, tickFormat: xFmt, tickSize: 0, tickPadding: 6, fontSize: 20, label: null}),
    Plot.axisY({ticks: yt.maj, tickFormat: fmtY, tickSize: 0, tickPadding: 8, fontSize: 20, label: null})
  ];
}
function labelMarks(labels) {
  return labels.map(l => Plot.text([l], {x: d => d.x, y: d => d.y, text: d => d.t, fill: l.c, fontSize: l.s, rotate: l.r || 0, fontFamily: FONT}));
}
const fillTop = (data, top, o) => Plot.areaY(data, {x: d => d[0], y1: top, y2: d => d[1] ?? top, clip: true, ...o});
const lineOf = (data, top, o) => Plot.line(data, {x: d => d[0], y: d => d[1] ?? top, clip: true, ...o});
const nn = arr => arr.filter(d => d[1] != null);

function fixSup(svg) {
  svg.querySelectorAll("text").forEach(t => {
    const s = t.textContent; const i = s.indexOf("^");
    if (i < 0) return;
    t.textContent = s.slice(0, i);
    const ts = document.createElementNS("http://www.w3.org/2000/svg", "tspan");
    ts.setAttribute("font-size", "70%"); ts.setAttribute("dy", "-0.55em");
    ts.textContent = s.slice(i + 1);
    t.appendChild(ts);
  });
}
function axisTitle(svg, x, y, rot, parts, size) {
  const t = d3.select(svg).append("text")
    .attr("transform", `translate(${x},${y}) rotate(${rot})`)
    .attr("text-anchor", "middle").attr("font-family", FONT).attr("font-size", size).attr("fill", "#000");
  for (const p of parts) {
    const s = t.append("tspan").text(p.t);
    if (p.it) s.attr("font-style", "italic");
    if (p.sub) s.attr("font-size", size * 0.72).attr("dy", size * 0.28);
    if (p.back) s.attr("dy", -size * 0.28);
  }
}
const wrap = document.getElementById("wrap");
function place(svg, left, top) {
  svg.style.position = "absolute"; svg.style.left = left + "px"; svg.style.top = top + "px";
  wrap.appendChild(svg);
}
const style = {fontFamily: FONT, fontSize: "20px", background: "transparent", overflow: "visible"};

const BLUE = "rgb(132,158,205)", GREEN = "rgb(115,185,115)", ORANGE = "rgb(240,160,100)", BAND3 = "rgb(120,172,200)", BAND2 = "rgb(86,138,184)";
const DDBLUE = "#bcc6da";

// ---------- TOP LEFT ----------
{
  const xd = [0.49, 12400], yd = [6.24e-14, 7.9e-10];
  const T = TOPA;
  const svg = Plot.plot({
    width: 573, height: 550, marginLeft: 88, marginRight: 16, marginTop: 8, marginBottom: 72,
    x: {type: "log", domain: xd}, y: {type: "log", domain: yd}, style,
    marks: [
      Plot.areaY([[XL, null], ...tlXe100SolarHigh], {x: d => d[0], y1: d => d[1] ?? T, y2: tlXe100Solar, fill: "#000", fillOpacity: 0.05, clip: true}),
      fillTop([[XL, tlRG], [XR, tlRG]], T, {fill: "#000", fillOpacity: 0.05}),
      fillTop([[XL, tlWD], [tlWDEnd, tlWD]], T, {fill: "#000", fillOpacity: 0.05}),
      Plot.areaY([XL, tlWDEnd], {x: d => d, y1: tlWDHint[0], y2: tlWDHint[1], fill: "#fde8d6", clip: true}),
      fillTop(tlDD, T, {fill: "#000", fillOpacity: 0.06}),
      fillTop(nn(tlXenon10), T, {fill: BLUE, fillOpacity: 0.45}),
      Plot.areaY(tlXenon10Band, {x: d => d[0], y1: d => d[1], y2: d => d[2], fill: "rgb(100,130,190)", fillOpacity: 0.25, clip: true}),
      fillTop(tlCDMS, T, {fill: GREEN, fillOpacity: 0.4}),
      fillTop(tlX2016Band, T, {fill: ORANGE, fillOpacity: 0.45}),
      fillTop(tlXenon100.filter(d => d[0] >= tlX100BandRange[0] && d[0] <= tlX100BandRange[1]), T, {fill: BAND3, fillOpacity: 0.35}),
      fillTop(tlXenon100Band2, T, {fill: BAND2, fillOpacity: 0.5}),
      lineOf([[XL, tlXe100Solar], [tlXe100SolarEnd, tlXe100Solar]], T, {stroke: "#777", strokeWidth: 1}),
      lineOf(tlXe100SolarHigh, T, {stroke: "#888", strokeWidth: 0.8}),
      lineOf([[XL, tlRG], [XR, tlRG]], T, {stroke: "#777", strokeWidth: 1}),
      lineOf([[XL, tlWD], [tlWDEnd, tlWD]], T, {stroke: "#808080", strokeWidth: 1}),
      lineOf(tlDD, T, {stroke: "#6a6a6a", strokeWidth: 1}),
      lineOf([...tlXenon10, ...tlXenon100], T, {stroke: "#1d2b4a", strokeWidth: 1.6}),
      lineOf(tlX2016, T, {stroke: "#8c6446", strokeWidth: 1.6}),
      lineOf(nn(tlCDMS), T, {stroke: "#1f4a22", strokeWidth: 1.5}),
      ...labelMarks(tlLabels),
      ...frameMarks(xd, yd, 469, 470, fmtXa)
    ]
  });
  fixSup(svg);
  axisTitle(svg, 322.5, 534, 0, [{t: "m", it: 1}, {t: "a", it: 1, sub: 1}, {t: " [eV]", back: 1}], 21);
  axisTitle(svg, 29, 243, -90, [{t: "g", it: 1}, {t: "aee", it: 1, sub: 1}], 21);
  place(svg, 0, 0);
}

// ---------- TOP RIGHT ----------
{
  const xd = [0.40, 60000], yd = [7.94e-18, 5.37e-13];
  const T = TOPB;
  const svg = Plot.plot({
    width: 573, height: 550, marginLeft: 102, marginRight: 2, marginTop: 8, marginBottom: 72,
    x: {type: "log", domain: xd}, y: {type: "log", domain: yd}, style,
    marks: [
      fillTop(trSun, T, {fill: "#808080", fillOpacity: 0.26}),
      fillTop(trHB, T, {fill: "#808080", fillOpacity: 0.2}),
      fillTop(trRG, T, {fill: "#808080", fillOpacity: 0.2}),
      fillTop(trXe2014, T, {fill: "#808080", fillOpacity: 0.2}),
      fillTop(nn(trXenon10), T, {fill: BLUE, fillOpacity: 0.45}),
      Plot.areaY(trXenon10Band, {x: d => d[0], y1: d => d[1], y2: d => d[2], fill: "rgb(100,130,190)", fillOpacity: 0.25, clip: true}),
      fillTop(trDamic, T, {fill: "rgb(100,165,110)", fillOpacity: 0.45}),
      fillTop(trCDMS, T, {fill: GREEN, fillOpacity: 0.4}),
      fillTop(trX2016Band, T, {fill: ORANGE, fillOpacity: 0.45}),
      fillTop(trXenon100.filter(d => d[0] >= trX100BandRange[0] && d[0] <= trX100BandRange[1]), T, {fill: BAND3, fillOpacity: 0.35}),
      fillTop(trXenon100Band2, T, {fill: BAND2, fillOpacity: 0.5}),
      lineOf(trSun, T, {stroke: "#888", strokeWidth: 0.9}),
      lineOf(trHB, T, {stroke: "#888", strokeWidth: 0.9}),
      lineOf(trRG, T, {stroke: "#888", strokeWidth: 0.9}),
      lineOf(trXe2014, T, {stroke: "#888", strokeWidth: 0.9}),
      lineOf(trXenon10Old, T, {stroke: "#555", strokeWidth: 2.2, strokeDasharray: "2.2,3.3"}),
      lineOf(trDamic.slice(0, -1), T, {stroke: "#5aa865", strokeWidth: 2}),
      lineOf([...trXenon10, ...trXenon100], T, {stroke: "#1d2b4a", strokeWidth: 1.6}),
      lineOf(trX2016, T, {stroke: "#8c6446", strokeWidth: 1.6}),
      lineOf(trCDMS, T, {stroke: "#1f4a22", strokeWidth: 1.5}),
      ...labelMarks(trLabels),
      ...frameMarks(xd, yd, 469, 470, fmtXb)
    ]
  });
  fixSup(svg);
  axisTitle(svg, 336.5, 534, 0, [{t: "m", it: 1}, {t: "A\u2032", it: 1, sub: 1}, {t: " [eV]", back: 1}], 21);
  axisTitle(svg, 35, 243, -90, [{t: "\u03F5"}], 21);
  place(svg, 573, 0);
}

// ---------- BOTTOM LEFT ----------
{
  const xd = [0.49, 12400], yd = [6.46e-14, 8.17e-10];
  const T = TOPA;
  const svg = Plot.plot({
    width: 573, height: 551, marginLeft: 88, marginRight: 16, marginTop: 18, marginBottom: 63,
    x: {type: "log", domain: xd}, y: {type: "log", domain: yd}, style,
    marks: [
      fillTop([[XL, blWD], [blWDEnd, blWD], [blWDEnd, blRG], [XR, blRG]], T, {fill: "#f2f2f2"}),
      Plot.areaY([XL, blWDHintEnd], {x: d => d, y1: blWDHint[0], y2: blWDHint[1], fill: "#fde8d6", clip: true}),
      fillTop(blDD, T, {fill: DDBLUE}),
      lineOf([[XL, blWD], [blWDEnd, blWD]], T, {stroke: "#a8a8a8", strokeWidth: 1.5}),
      lineOf([[blWDEnd, blRG], [XR, blRG]], T, {stroke: "#a8a8a8", strokeWidth: 1.5}),
      lineOf(blGe, T, {stroke: "#4a2a45", strokeWidth: 1.5}),
      lineOf(blSi, T, {stroke: "#a463a6", strokeWidth: 1.5}),
      lineOf(blNaI, T, {stroke: "#f0643a", strokeWidth: 1.5}),
      lineOf(blCsI, T, {stroke: "#eba129", strokeWidth: 1.5}),
      lineOf(blGaAs, T, {stroke: "#1d8a1d", strokeWidth: 1.6}),
      ...labelMarks(blLabels),
      ...frameMarks(xd, yd, 469, 470, fmtXa)
    ]
  });
  fixSup(svg);
  axisTitle(svg, 322.5, 543, 0, [{t: "m", it: 1}, {t: "a", it: 1, sub: 1}, {t: " [eV]", back: 1}], 21);
  axisTitle(svg, 29, 253, -90, [{t: "g", it: 1}, {t: "aee", it: 1, sub: 1}], 21);
  place(svg, 0, 550);
}

// ---------- BOTTOM RIGHT ----------
{
  const xd = [0.40, 60000], yd = [8.22e-18, 5.56e-13];
  const T = TOPB;
  const svg = Plot.plot({
    width: 573, height: 551, marginLeft: 102, marginRight: 2, marginTop: 18, marginBottom: 63,
    x: {type: "log", domain: xd}, y: {type: "log", domain: yd}, style,
    marks: [
      fillTop(brStellar, T, {fill: "#e6e6e6"}),
      fillTop(brDD, T, {fill: DDBLUE}),
      lineOf(brStellar, T, {stroke: "#999", strokeWidth: 1}),
      lineOf(brGe, T, {stroke: "#4a2a45", strokeWidth: 1.5}),
      lineOf(brSi, T, {stroke: "#a463a6", strokeWidth: 1.5}),
      lineOf(brNaI, T, {stroke: "#f0643a", strokeWidth: 1.5}),
      lineOf(brCsI, T, {stroke: "#eba129", strokeWidth: 1.5}),
      lineOf(brGaAs, T, {stroke: "#1d8a1d", strokeWidth: 1.6}),
      ...labelMarks(brLabels),
      ...frameMarks(xd, yd, 469, 470, fmtXb)
    ]
  });
  fixSup(svg);
  axisTitle(svg, 336.5, 543, 0, [{t: "m", it: 1}, {t: "A\u2032", it: 1, sub: 1}, {t: " [eV]", back: 1}], 21);
  axisTitle(svg, 35, 253, -90, [{t: "\u03F5"}], 21);
  place(svg, 573, 550);
}
</script></body></html>
